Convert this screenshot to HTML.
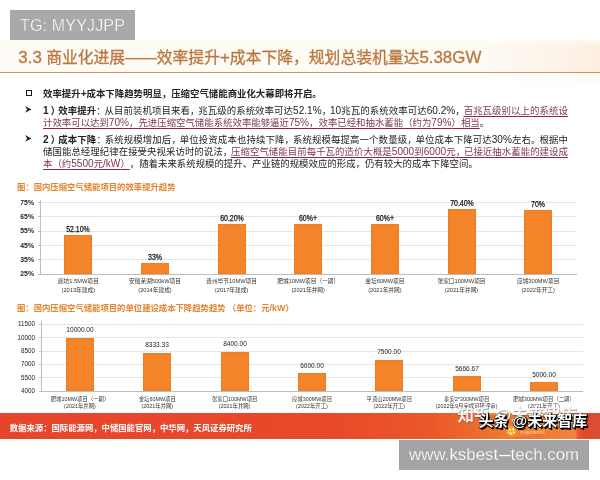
<!DOCTYPE html>
<html lang="zh">
<head>
<meta charset="utf-8">
<title>3.3 商业化进展</title>
<style>
html,body{margin:0;padding:0;}
body{width:600px;height:480px;overflow:hidden;background:#fff;position:relative;
  font-family:"Liberation Sans","Noto Sans CJK SC",sans-serif;color:#222;}
#stage{position:absolute;left:-10px;top:0;width:620px;height:480px;will-change:transform;filter:blur(0.6px);}
#stage>#inner{position:absolute;left:10px;top:0;width:600px;height:480px;}
.abs{position:absolute;white-space:nowrap;}
#tg{left:10px;top:10px;width:125px;height:30px;background:#a9a9a9;color:#fff;font-size:16.1px;line-height:30px;text-indent:10px;letter-spacing:0.12px;-webkit-text-stroke:0.35px #a9a9a9;}
#titlebg{left:0;top:39px;width:610px;height:48px;background:linear-gradient(90deg,rgba(252,236,218,0) 0px,rgba(252,236,218,0) 480px,rgba(252,236,218,0.35) 540px,rgba(252,234,214,0.7) 600px,rgba(252,234,214,0.7) 610px);-webkit-mask-image:linear-gradient(180deg,rgba(0,0,0,0.2) 0%,#000 15%,#000 70%,rgba(0,0,0,0.5) 72%,rgba(0,0,0,0) 100%);mask-image:linear-gradient(180deg,rgba(0,0,0,0.2) 0%,#000 15%,#000 70%,rgba(0,0,0,0.5) 72%,rgba(0,0,0,0) 100%);}
#title{left:18.3px;top:46.1px;font-size:15.8px;line-height:24px;color:#b9783e;-webkit-text-stroke:0.3px #b9783e;}
#rule{left:-10px;top:72.1px;width:620px;height:1.2px;background:#c9965f;}
.txt{text-spacing-trim:space-all;font-size:9.42px;line-height:12px;color:#222;}
.b{font-weight:bold;}
.j{width:525px;text-align:justify;text-align-last:justify;}
.l{font-size:1.07em;}
.pr{position:relative;left:2px;}
.pc{margin-right:-1.2px;}
.u{color:#7d3850;text-decoration:underline;text-decoration-color:#8f2444;text-decoration-thickness:0.9px;text-underline-offset:1.5px;}
.ctitle{text-spacing-trim:space-all;font-size:8.35px;font-weight:bold;color:#e28430;line-height:12px;}
.yl{font-size:7.6px;font-weight:bold;color:#222;line-height:10px;text-align:right;width:24px;transform:scaleX(0.9);transform-origin:100% 50%;}
.vl{font-size:8.5px;color:#111;line-height:10px;text-align:center;width:60px;transform:scaleX(0.82);-webkit-text-stroke:0.25px #111;}
.cl{font-size:5.7px;color:#333;line-height:8.9px;text-align:center;width:90px;}
.bar{position:absolute;background:#f4842a;box-shadow:inset 0 0 0 0.6px #ea7a24;}
.yl2{font-size:7.5px;color:#222;line-height:10px;text-align:right;width:28px;transform:scaleX(0.84);transform-origin:100% 50%;}
.vl2{font-size:7.6px;color:#222;line-height:10px;text-align:center;width:60px;transform:scaleX(0.86);}
.cl2{font-size:5.4px;color:#333;line-height:7px;text-align:center;width:90px;}
.gl{position:absolute;height:1px;background:#e4e4e4;}
#footer{left:-10px;top:412.6px;width:620px;height:26.8px;background:linear-gradient(90deg,#e7452b 0px,#e7452b 10px,#e8492a 340px,#ea582a 442px,#ee742d 502px,#f28c38 550px,#f59c48 583px,#e4502c 589px,#e0482c 599px,#dc4c34 603px,#dd5038 620px);}
#wm1{left:457.5px;top:404.3px;font-size:16.5px;line-height:22px;font-weight:bold;color:rgba(255,255,255,0.9);text-shadow:0.6px 0.8px 1px rgba(70,70,70,0.6);}
#wm2{left:478.4px;top:410px;font-size:15px;line-height:22px;color:#fff;font-weight:bold;text-shadow:1px 1px 0 #000,1.6px 1.6px 0 #000,0 1px 0 #000,1px 0 0 #000,-0.5px -0.5px 0.5px rgba(0,0,0,0.7),0 0 1.5px #000;}
#src{left:9.8px;top:420.9px;font-size:8.35px;font-weight:bold;color:#fff;line-height:14px;}
#ks{left:398.7px;top:440.3px;width:190.8px;height:29.7px;background:#a4a4a4;color:#fff;font-size:16.9px;line-height:30.5px;text-align:center;-webkit-text-stroke:0.25px #a4a4a4;}
#ks i{font-style:normal;display:inline-block;transform:scaleX(2.9);margin:0 3.4px;}
</style>
</head>
<body>
<div id="stage"><div id="inner">
<div class="abs" style="left:-10px;top:41px;width:620px;height:31px;background:rgba(253,243,232,0.4);"></div>
<div class="abs" id="titlebg"></div>
<div class="abs" id="tg">TG: MYYJJPP</div>
<div class="abs" id="title"><span class="l">3.3</span> 商业化进展——效率提升<span class="l">+</span>成本下降，规划总装机量达<span class="l">5.38GW</span></div>
<div class="abs" id="rule"></div>

<!-- text block -->
<div class="abs" style="left:26.1px;top:90px;width:4.2px;height:4.2px;border:1.3px solid #1c1c1c;"></div>
<div class="abs txt b" style="left:43px;top:87.7px;">效率提升<span class="l">+</span>成本下降趋势明显，压缩空气储能商业化大幕即将开启。</div>
<svg class="abs" style="left:25.3px;top:106px;" width="7" height="7" viewBox="0 0 7 7"><polygon points="0,0 6.4,3.4 0,6.8 2.1,3.4" fill="#222"/></svg>
<div class="abs txt j" style="left:43px;top:105px;"><span class="b"><span class="l">1</span><span class="pr">）</span>效率提升</span><span class="pc">：</span>从目前装机项目来看<span class="pc">，</span>兆瓦级的系统效率可达<span class="l">52.1%</span><span class="pc">，</span><span class="l">10</span>兆瓦的系统效率可达<span class="l">60.2%</span><span class="pc">，</span><span class="u">百兆瓦级别以上的系统设</span></div>
<div class="abs txt" style="left:43px;top:116.6px;"><span class="u">计效率可以达到<span class="l">70%</span>，先进压缩空气储能系统效率能够逼近<span class="l">75%</span>，效率已经和抽水蓄能（约为<span class="l">79%</span>）相当</span>。</div>
<svg class="abs" style="left:25.3px;top:135.3px;" width="7" height="7" viewBox="0 0 7 7"><polygon points="0,0 6.4,3.4 0,6.8 2.1,3.4" fill="#222"/></svg>
<div class="abs txt j" style="left:43px;top:134px;"><span class="b"><span class="l">2</span><span class="pr">）</span>成本下降</span><span class="pc">：</span>系统规模增加后<span class="pc">，</span>单位投资成本也持续下降<span class="pc">，</span>系统规模每提高一个数量级<span class="pc">，</span>单位成本下降可达<span class="l">30%</span>左右<span class="pc">。</span>根据中</div>
<div class="abs txt j" style="left:43px;top:145.7px;">储国能总经理纪律在接受央视采访时的说法<span class="pc">，</span><span class="u">压缩空气储能目前每千瓦的造价大概是<span class="l">5000</span>到<span class="l">6000</span>元<span class="pc">，</span>已接近抽水蓄能的建设成</span></div>
<div class="abs txt" style="left:43px;top:157.6px;"><span class="u">本（约<span class="l">5500</span>元<span class="l">/kW</span>）</span>，随着未来系统规模的提升、产业链的规模效应的形成，仍有较大的成本下降空间。</div>

<!-- chart 1 -->
<div class="abs ctitle" style="left:17px;top:181px;">图：国内压缩空气储能项目的效率提升趋势</div>
<div class="gl" style="left:40.0px;top:202.0px;width:536.5px;background:#e6e6e6"></div>
<div class="abs yl" style="left:10.0px;top:197.5px;">75%</div>
<div class="gl" style="left:37.5px;top:202.0px;width:2.5px;background:#c4c4c4"></div>
<div class="gl" style="left:40.0px;top:216.3px;width:536.5px;background:#e6e6e6"></div>
<div class="abs yl" style="left:10.0px;top:211.8px;">65%</div>
<div class="gl" style="left:37.5px;top:216.3px;width:2.5px;background:#c4c4c4"></div>
<div class="gl" style="left:40.0px;top:230.6px;width:536.5px;background:#e6e6e6"></div>
<div class="abs yl" style="left:10.0px;top:226.1px;">55%</div>
<div class="gl" style="left:37.5px;top:230.6px;width:2.5px;background:#c4c4c4"></div>
<div class="gl" style="left:40.0px;top:245.0px;width:536.5px;background:#e6e6e6"></div>
<div class="abs yl" style="left:10.0px;top:240.5px;">45%</div>
<div class="gl" style="left:37.5px;top:245.0px;width:2.5px;background:#c4c4c4"></div>
<div class="gl" style="left:40.0px;top:259.3px;width:536.5px;background:#e6e6e6"></div>
<div class="abs yl" style="left:10.0px;top:254.8px;">35%</div>
<div class="gl" style="left:37.5px;top:259.3px;width:2.5px;background:#c4c4c4"></div>
<div class="gl" style="left:40.0px;top:273.6px;width:536.5px;background:#bdbdbd"></div>
<div class="abs yl" style="left:10.0px;top:269.1px;">25%</div>
<div class="gl" style="left:37.5px;top:273.6px;width:2.5px;background:#c4c4c4"></div>
<div class="abs" style="left:39.5px;top:199.5px;width:1px;height:74.60000000000002px;background:#bdbdbd"></div>
<div class="bar" style="left:64.3px;top:235.3px;width:28px;height:38.8px"></div>
<div class="abs vl" style="left:48.3px;top:224.2px;">52.10%</div>
<div class="abs cl" style="left:33.3px;top:276.6px;">廊坊1.5MW项目<br>(2013年建成)</div>
<div class="bar" style="left:141.0px;top:262.6px;width:28px;height:11.5px"></div>
<div class="abs vl" style="left:125.0px;top:251.5px;">33%</div>
<div class="abs cl" style="left:110.0px;top:276.6px;">安徽芜湖500kW项目<br>(2014年建成)</div>
<div class="bar" style="left:217.6px;top:223.7px;width:28px;height:50.4px"></div>
<div class="abs vl" style="left:201.6px;top:212.6px;">60.20%</div>
<div class="abs cl" style="left:186.6px;top:276.6px;">贵州毕节10MW项目<br>(2017年建成)</div>
<div class="bar" style="left:294.2px;top:224.0px;width:28px;height:50.1px"></div>
<div class="abs vl" style="left:278.2px;top:212.9px;">60%+</div>
<div class="abs cl" style="left:263.2px;top:276.6px;">肥城10MW项目（一期）<br>(2021年并网)</div>
<div class="bar" style="left:370.9px;top:224.0px;width:28px;height:50.1px"></div>
<div class="abs vl" style="left:354.9px;top:212.9px;">60%+</div>
<div class="abs cl" style="left:339.9px;top:276.6px;">金坛60MW项目<br>(2021年并网)</div>
<div class="bar" style="left:447.5px;top:209.1px;width:28px;height:65.0px"></div>
<div class="abs vl" style="left:431.5px;top:198.0px;">70.40%</div>
<div class="abs cl" style="left:416.5px;top:276.6px;">张家口100MW项目<br>(2021年并网)</div>
<div class="bar" style="left:524.2px;top:209.7px;width:28px;height:64.4px"></div>
<div class="abs vl" style="left:508.2px;top:198.6px;">70%</div>
<div class="abs cl" style="left:493.2px;top:276.6px;">应城300MW项目<br>(2022年开工)</div>

<!-- chart 2 -->
<div class="abs ctitle" style="left:17px;top:302px;">图：国内压缩空气储能项目的单位建设成本下降趋势趋势<span style="margin-left:2.2px">（</span>单位：元<span class="l">/kW</span>）</div>
<div class="gl" style="left:41.3px;top:323.8px;width:541.4px;background:#e6e6e6"></div>
<div class="abs yl2" style="left:6.9px;top:319.3px;">11500</div>
<div class="gl" style="left:38.8px;top:323.8px;width:2.5px;background:#c4c4c4"></div>
<div class="gl" style="left:41.3px;top:337.1px;width:541.4px;background:#e6e6e6"></div>
<div class="abs yl2" style="left:6.9px;top:332.6px;">10000</div>
<div class="gl" style="left:38.8px;top:337.1px;width:2.5px;background:#c4c4c4"></div>
<div class="gl" style="left:41.3px;top:350.5px;width:541.4px;background:#e6e6e6"></div>
<div class="abs yl2" style="left:6.9px;top:346.0px;">8500</div>
<div class="gl" style="left:38.8px;top:350.5px;width:2.5px;background:#c4c4c4"></div>
<div class="gl" style="left:41.3px;top:363.8px;width:541.4px;background:#e6e6e6"></div>
<div class="abs yl2" style="left:6.9px;top:359.3px;">7000</div>
<div class="gl" style="left:38.8px;top:363.8px;width:2.5px;background:#c4c4c4"></div>
<div class="gl" style="left:41.3px;top:377.2px;width:541.4px;background:#e6e6e6"></div>
<div class="abs yl2" style="left:6.9px;top:372.7px;">5500</div>
<div class="gl" style="left:38.8px;top:377.2px;width:2.5px;background:#c4c4c4"></div>
<div class="gl" style="left:41.3px;top:390.5px;width:541.4px;background:#bdbdbd"></div>
<div class="abs yl2" style="left:6.9px;top:386.0px;">4000</div>
<div class="gl" style="left:38.8px;top:390.5px;width:2.5px;background:#c4c4c4"></div>
<div class="abs" style="left:40.8px;top:321.3px;width:1px;height:69.69999999999999px;background:#bdbdbd"></div>
<div class="bar" style="left:65.8px;top:337.6px;width:28.3px;height:53.4px"></div>
<div class="abs vl2" style="left:50.0px;top:325.1px;">10000.00</div>
<div class="abs cl2" style="left:35.0px;top:395.9px;">肥城10MW项目（一期）<br>(2021年并网)</div>
<div class="bar" style="left:143.2px;top:352.5px;width:28.3px;height:38.5px"></div>
<div class="abs vl2" style="left:127.3px;top:340.0px;">8333.33</div>
<div class="abs cl2" style="left:112.3px;top:395.9px;">金坛60MW项目<br>(2021年并网)</div>
<div class="bar" style="left:220.5px;top:351.9px;width:28.3px;height:39.1px"></div>
<div class="abs vl2" style="left:204.7px;top:339.4px;">8400.00</div>
<div class="abs cl2" style="left:189.7px;top:395.9px;">张家口100MW项目<br>(2021年并网)</div>
<div class="bar" style="left:297.9px;top:373.2px;width:28.3px;height:17.8px"></div>
<div class="abs vl2" style="left:282.0px;top:360.7px;">6000.00</div>
<div class="abs cl2" style="left:267.0px;top:395.9px;">应城300MW项目<br>(2022年开工)</div>
<div class="bar" style="left:375.2px;top:359.9px;width:28.3px;height:31.1px"></div>
<div class="abs vl2" style="left:359.3px;top:347.4px;">7500.00</div>
<div class="abs cl2" style="left:344.3px;top:395.9px;">平顶山200MW项目<br>(2022年开工)</div>
<div class="bar" style="left:452.5px;top:376.2px;width:28.3px;height:14.8px"></div>
<div class="abs vl2" style="left:436.7px;top:363.7px;">5666.67</div>
<div class="abs cl2" style="left:421.7px;top:395.9px;">泰安2*300MW项目<br>(2022年9月完成可研评审)</div>
<div class="bar" style="left:529.9px;top:382.1px;width:28.3px;height:8.9px"></div>
<div class="abs vl2" style="left:514.0px;top:369.6px;">5000.00</div>
<div class="abs cl2" style="left:499.0px;top:395.9px;">肥城300MW项目（二期）<br>(2021年开工)</div>

<div class="abs" id="footer"></div>
<svg class="abs" style="left:380px;top:412.6px;" width="220" height="26.8" viewBox="0 0 220 27.4">
<defs><linearGradient id="sw" x1="0" y1="0" x2="1" y2="0"><stop offset="0" stop-color="#f6a23e" stop-opacity="0"/><stop offset="0.6" stop-color="#f7a640" stop-opacity="0.45"/><stop offset="1" stop-color="#f9b04a" stop-opacity="0.7"/></linearGradient></defs>
<path d="M90,0 C130,3 170,3 196,0 Z" fill="#f8b25a" opacity="0.55"/>
<path d="M120,27.4 C150,24 175,16 196,8 L196,27.4 Z" fill="#e8562a" opacity="0.35"/>
<g transform="translate(132,18.5)"><circle r="5.2" fill="#f7a420"/><circle cx="-3.6" cy="-3.9" r="1.7" fill="#f7a420"/><circle cx="3.2" cy="-4.4" r="1.5" fill="#f9b43a"/><circle cx="-1.7" cy="-1.5" r="1.1" fill="#fff"/><circle cx="1.6" cy="-1.8" r="1.1" fill="#fff"/><circle cx="2.4" cy="1.4" r="1" fill="#fff"/><circle cx="-0.6" cy="2.5" r="1" fill="#fff"/><circle cx="-2.9" cy="1.1" r="0.8" fill="#fff"/></g>
<text x="140.5" y="21.6" font-family="Liberation Sans, sans-serif" font-size="3.4" fill="#fbd9a8">TF SECURITIES</text>
</svg>
<div class="abs" id="wm1">知乎 @未来智库</div>
<div class="abs" id="wm2">头条 @未来智库</div>
<div class="abs" id="src">数据来源：国际能源网，中储国能官网，中华网，天风证券研究所</div>
<div class="abs" id="ks">www.ksbest<i>-</i>tech.com</div>
</div></div>
</body>
</html>
